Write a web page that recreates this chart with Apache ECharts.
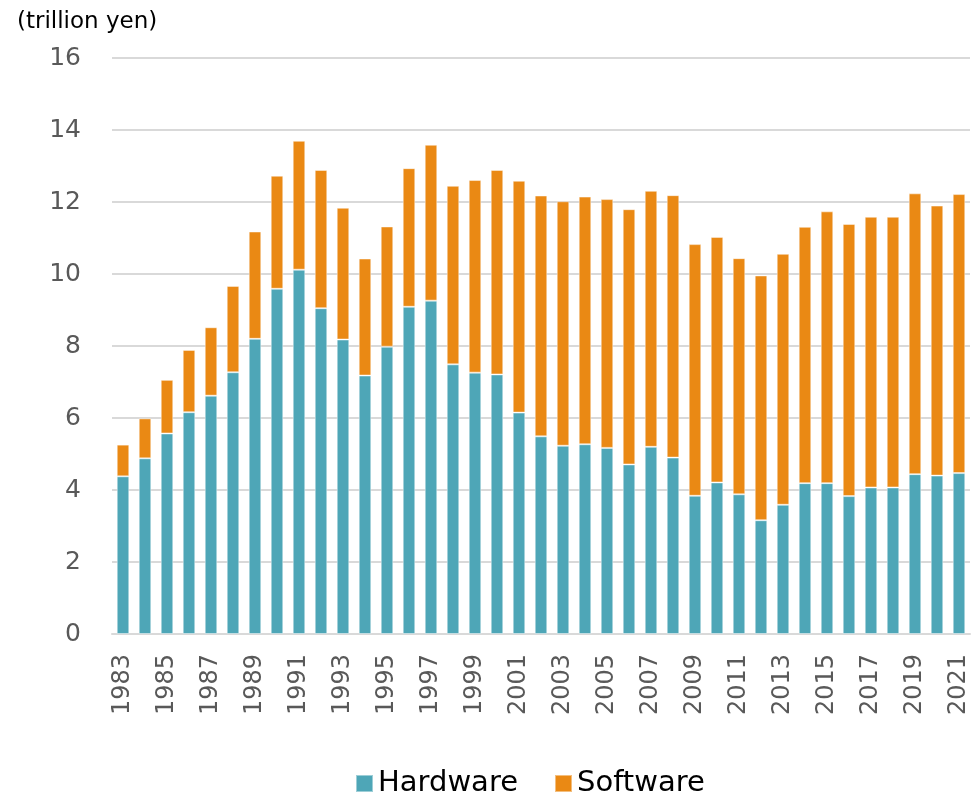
<!DOCTYPE html>
<html>
<head>
<meta charset="utf-8">
<script src="https://cdn.jsdelivr.net/npm/echarts@6/dist/echarts.min.js"></script>
<style>
  html, body { margin: 0; padding: 0; background: #fff; }
  #main { width: 977px; height: 792px; }
</style>
</head>
<body>
<div id="main"></div>
<script>
// years shown on the category axis
var years = [];
for (var y = 1983; y <= 2021; y++) years.push(String(y));

// hardware, trillion yen
var hardware = [4.38, 4.88, 5.57, 6.16, 6.62, 7.27, 8.20, 9.59, 10.12, 9.05,
  8.18, 7.18, 7.98, 9.09, 9.26, 7.49, 7.26, 7.21, 6.15, 5.49,
  5.23, 5.27, 5.17, 4.71, 5.20, 4.90, 3.84, 4.21, 3.88, 3.16,
  3.59, 4.19, 4.19, 3.83, 4.07, 4.07, 4.44, 4.40, 4.47];

// total market (hardware + software), used to get software share
var totals = [5.26, 5.99, 7.06, 7.89, 8.52, 9.67, 11.18, 12.73, 13.70, 12.89,
  11.84, 10.43, 11.32, 12.94, 13.59, 12.45, 12.61, 12.89, 12.59, 12.18,
  12.02, 12.15, 12.08, 11.80, 12.31, 12.19, 10.83, 11.03, 10.44, 9.96,
  10.56, 11.31, 11.74, 11.39, 11.59, 11.59, 12.24, 11.90, 12.22];

var software = totals.map(function (t, i) {
  return +(t - hardware[i]).toFixed(2);
});

var font = "DejaVu Sans";
var chart = echarts.init(document.getElementById("main"));

chart.setOption({
  animation: false,
  textStyle: { fontFamily: font },
  title: {
    text: "(trillion yen)",
    left: 12,
    top: 6,
    textStyle: { fontFamily: font, fontSize: 23, fontWeight: "normal", color: "#000" }
  },
  legend: {
    left: 350,
    top: 764,
    itemWidth: 17,
    itemHeight: 17,
    itemGap: 36,
    icon: "rect",
    textStyle: { fontFamily: font, fontSize: 29, color: "#000" },
    data: ["Hardware", "Software"]
  },
  grid: { left: 112, right: 7, top: 58, bottom: 158 },
  xAxis: {
    type: "category",
    data: years,
    axisTick: { show: false },
    axisLine: { lineStyle: { color: "#d9d9d9", width: 2 } },
    axisLabel: {
      interval: 1,
      rotate: 90,
      margin: 20,
      fontFamily: font,
      fontSize: 24,
      color: "#595959"
    }
  },
  yAxis: {
    type: "value",
    min: 0,
    max: 16,
    interval: 2,
    axisLine: { show: false },
    axisTick: { show: false },
    splitLine: { lineStyle: { color: "#d9d9d9", width: 2 } },
    axisLabel: { margin: 31, fontFamily: font, fontSize: 25, color: "#595959" }
  },
  series: [
    {
      name: "Hardware",
      type: "bar",
      stack: "total",
      barWidth: "57%",
      data: hardware,
      itemStyle: { color: "#4ea6b7", borderColor: "rgba(255,255,255,0.45)", borderWidth: 1 }
    },
    {
      name: "Software",
      type: "bar",
      stack: "total",
      barWidth: "57%",
      data: software,
      itemStyle: { color: "#ea8914", borderColor: "rgba(255,255,255,0.45)", borderWidth: 1 }
    }
  ]
});
</script>
</body>
</html>
